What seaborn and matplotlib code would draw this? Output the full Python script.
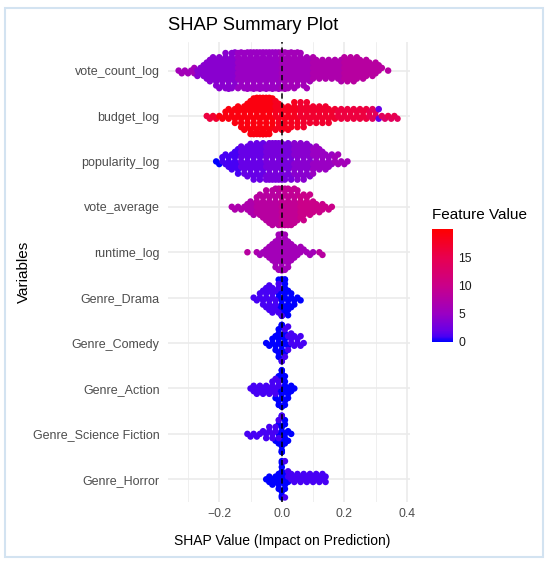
import numpy as np
import pandas as pd
import matplotlib
matplotlib.use("Agg")
import matplotlib.pyplot as plt
from matplotlib.colors import LinearSegmentedColormap, Normalize
from matplotlib.cm import ScalarMappable
from matplotlib.patches import Rectangle
import seaborn as sns

# --- data (SHAP bins of 0.01, points per bin, feature value) ---
BIN = 0.01
features = ["vote_count_log", "budget_log", "popularity_log", "vote_average",
            "runtime_log", "Genre_Drama", "Genre_Comedy", "Genre_Action",
            "Genre_Science Fiction", "Genre_Horror"]

vote_count_start = -0.33
vote_count_counts = [1, 1, 1, 1, 1, 2, 2, 2, 3, 4,
                     5, 5, 6, 6, 6, 7, 7, 7, 7, 7,
                     7, 7, 8, 8, 8, 8, 8, 8, 8, 8,
                     8, 8, 8, 8, 8, 7, 7, 7, 7, 6,
                     6, 6, 5, 5, 4, 4, 4, 4, 4, 4,
                     4, 4, 5, 5, 5, 5, 5, 5, 4, 4,
                     4, 3, 3, 3, 2, 1, 0, 1]
vote_count_values = [6, 6, 6, 6, 6, 6, 4, 4, 4, 4,
                     4, 4, 4, 4, 4, 4, 4, 4, 4, 5,
                     5, 5, 5, 5, 5, 5, 5, 5, 5, 5,
                     5, 5, 5, 6, 6, 6, 6, 6, 6, 6,
                     6, 6, 6, 7, 7, 7, 7, 7, 7, 7,
                     7, 7, 7, 8, 8, 8, 8, 8, 8, 8,
                     8, 8, 8, 8, 8, 8, 8, 8]

budget_start = -0.24
budget_counts = [1, 1, 1, 1, 1, 1, 2, 2, 2, 3,
                 3, 4, 4, 5, 6, 7, 7, 8, 8, 8,
                 7, 6, 5, 5, 4, 4, 4, 4, 4, 4,
                 4, 4, 4, 3, 3, 3, 3, 3, 3, 3,
                 2, 2, 2, 2, 2, 2, 2, 2, 2, 2,
                 2, 2, 2, 2, 2, 2, 1, 1, 1, 1,
                 1, 1]
budget_values = [16, 16, 17, 17, 19, 19, 19, 19, 19, 19,
                 19, 19, 19, 19, 19, 19, 19, 19, 19, 19,
                 19, 19, 18, 18, 18, 18, 18, 18, 18, 18,
                 17, 17, 17, 17, 17, 17, 17, 17, 17, 17,
                 17, 17, 16, 16, 16, 16, 16, 16, 16, 16,
                 16, 16, 15, 14, 14, 2, 14, 13, 15, 14,
                 15, 14]

popularity_start = -0.21
popularity_counts = [1, 1, 2, 2, 3, 3, 4, 5, 5, 5,
                     6, 6, 7, 7, 7, 7, 7, 8, 8, 8,
                     8, 8, 7, 7, 7, 7, 7, 7, 7, 6,
                     6, 5, 5, 4, 4, 3, 3, 2, 2, 2,
                     1, 1, 1]
popularity_values = [0, 0, 1, 1, 1, 1, 1, 1, 2, 2,
                     2, 2, 2, 2, 2, 2, 3, 3, 3, 3,
                     3, 3, 3, 3, 3, 4, 4, 4, 4, 4,
                     4, 5, 5, 5, 5, 5, 5, 5, 6, 6,
                     6, 6, 6]

vote_average_start = -0.16
vote_average_counts = [1, 1, 1, 1, 1, 2, 3, 3, 4, 4,
                       5, 6, 6, 7, 7, 8, 8, 8, 8, 7,
                       7, 6, 5, 5, 4, 4, 3, 2, 2, 2,
                       1, 1, 1]
vote_average_values = [7, 7, 7, 7, 7, 7, 7, 7, 8, 8,
                       8, 8, 8, 8, 8, 8, 9, 9, 9, 9,
                       9, 9, 10, 10, 10, 10, 10, 10, 10, 10,
                       10, 10, 10]

runtime_start = -0.11
runtime_counts = [1, 0, 0, 1, 1, 1, 2, 3, 4, 6,
                  7, 8, 7, 6, 4, 3, 2, 2, 1, 1,
                  1, 1, 0, 1, 1]
runtime_values = [8, 0, 0, 7, 6, 6, 6, 6, 6, 6,
                  6, 6, 6, 6, 6, 6, 6, 6, 6, 6,
                  6, 6, 0, 8, 8]

# genre dummies: points with value 0 (blue) and value 1 (violet)
drama_zero_start, drama_zero_counts = -0.01, [4, 8, 8, 5, 3, 2, 1, 1]
drama_one_start, drama_one_counts = -0.09, [1, 1, 2, 3, 4, 5, 5, 4, 3, 1]
comedy_zero_start, comedy_zero_counts = -0.05, [1, 1, 2, 3, 6, 8, 4, 1]
comedy_one_start, comedy_one_counts = 0.00, [1, 2, 3, 3, 2, 2, 2, 1]
action_zero_start, action_zero_counts = -0.02, [1, 4, 9, 6, 3, 2, 1]
action_one_start, action_one_counts = -0.10, [1, 2, 2, 2, 2, 2, 2, 3, 3, 2]
scifi_zero_start, scifi_zero_counts = -0.02, [1, 3, 9, 5, 2, 1]
scifi_one_start, scifi_one_counts = -0.11, [1, 1, 1, 1, 1, 1, 2, 2, 2, 2, 2, 1]
horror_zero_start, horror_zero_counts = -0.05, [1, 2, 2, 2, 4, 9, 4, 1]
horror_one_start, horror_one_counts = 0.01, [2, 2, 2, 2, 2, 2, 2, 2, 2, 2, 2, 2, 2, 2]

x_ticks = [-0.2, 0.0, 0.2, 0.4]
x_tick_labels = ["\u22120.2", "0.0", "0.2", "0.4"]
cbar_ticks = [0, 5, 10, 15]


def expand(feature, start, counts, values):
    centers = np.round(start + BIN * np.arange(len(counts)), 2)
    values = np.broadcast_to(values, len(counts))
    return pd.DataFrame({
        "feature": feature,
        "shap": np.repeat(centers, counts),
        "value": np.repeat(values, counts).astype(float),
    })


df = pd.concat([
    expand("vote_count_log", vote_count_start, vote_count_counts, vote_count_values),
    expand("budget_log", budget_start, budget_counts, budget_values),
    expand("popularity_log", popularity_start, popularity_counts, popularity_values),
    expand("vote_average", vote_average_start, vote_average_counts, vote_average_values),
    expand("runtime_log", runtime_start, runtime_counts, runtime_values),
    expand("Genre_Drama", drama_zero_start, drama_zero_counts, 0),
    expand("Genre_Drama", drama_one_start, drama_one_counts, 1),
    expand("Genre_Comedy", comedy_zero_start, comedy_zero_counts, 0),
    expand("Genre_Comedy", comedy_one_start, comedy_one_counts, 1),
    expand("Genre_Action", action_zero_start, action_zero_counts, 0),
    expand("Genre_Action", action_one_start, action_one_counts, 1),
    expand("Genre_Science Fiction", scifi_zero_start, scifi_zero_counts, 0),
    expand("Genre_Science Fiction", scifi_one_start, scifi_one_counts, 1),
    expand("Genre_Horror", horror_zero_start, horror_zero_counts, 0),
    expand("Genre_Horror", horror_one_start, horror_one_counts, 1),
], ignore_index=True)

# blue -> red gradient (ggplot-like, interpolated through Lab)
cmap = LinearSegmentedColormap.from_list("shap", [
    (0.0, "#0000FF"), (0.05, "#4B00F3"), (0.1, "#6800E6"), (0.25, "#9A00C3"),
    (0.5, "#CA0089"), (0.75, "#E8004F"), (1.0, "#FF0000")])
norm = Normalize(0, 20)

sns.set_style("white")
plt.rcParams["font.family"] = ["Liberation Sans", "DejaVu Sans"]

fig = plt.figure(figsize=(5.5, 5.63), dpi=100)
ax = fig.add_axes([168 / 550, 1 - 502 / 563, 242 / 550, 460 / 563])

sns.swarmplot(data=df, x="shap", y="feature", order=features, hue="value",
              palette=cmap, hue_norm=(0, 20), size=2.9, linewidth=0,
              legend=False, warn_thresh=1.0, ax=ax)

ax.axvline(0, color="black", linestyle=(0, (3.5, 2.5)), lw=1.1, zorder=5)

ax.set_xlim(-0.364, 0.41)
ax.set_ylim(9.5, -0.63)
ax.set_xticks(x_ticks)
ax.set_xticklabels(x_tick_labels)
ax.set_xticks([-0.3, -0.1, 0.1, 0.3], minor=True)
ax.set_axisbelow(True)
ax.grid(which="major", color="#EBEBEB", lw=1.2)
ax.grid(which="minor", axis="x", color="#EFEFEF", lw=0.7)
for s in ax.spines.values():
    s.set_visible(False)
ax.tick_params(which="both", length=0)
ax.tick_params(axis="x", labelsize=8.8, labelcolor="#4D4D4D", pad=4)
ax.tick_params(axis="y", labelsize=9, labelcolor="#4D4D4D", pad=6)

ax.set_xlabel("SHAP Value (Impact on Prediction)", fontsize=10, color="black")
ax.xaxis.set_label_coords(0.47, -0.07)
ax.set_ylabel("Variables", fontsize=11, color="black")
ax.yaxis.set_label_coords(-0.567, 0.5)

fig.text(168 / 550, 1 - 25 / 563, "SHAP Summary Plot", fontsize=13.2,
         ha="left", va="center", color="black")

cax = fig.add_axes([432 / 550, 1 - 342 / 563, 21 / 550, 113 / 563])
cb = fig.colorbar(ScalarMappable(norm=norm, cmap=cmap), cax=cax)
cb.outline.set_visible(False)
cb.set_ticks(cbar_ticks)
cax.tick_params(length=4, width=1, color="white", direction="in",
                left=True, right=True, labelsize=8.8, labelcolor="#1A1A1A", pad=4)
fig.text(432 / 550, 1 - 215 / 563, "Feature Value", fontsize=11,
         ha="left", va="center", color="black")

fig.patches.append(Rectangle((5 / 550, 1 - 557 / 563), 538 / 550, 549 / 563,
                             transform=fig.transFigure, fill=False,
                             edgecolor="#D3E3F1", lw=1.5))

# lay the swarm out once, then freeze it and draw the dots larger so
# they overlap like the dense original
fig.canvas.draw()
for coll in ax.collections:
    coll.__dict__.pop("draw", None)
    coll.set_sizes(coll.get_sizes() * 2.6)

fig.savefig("out.png", dpi=100)
